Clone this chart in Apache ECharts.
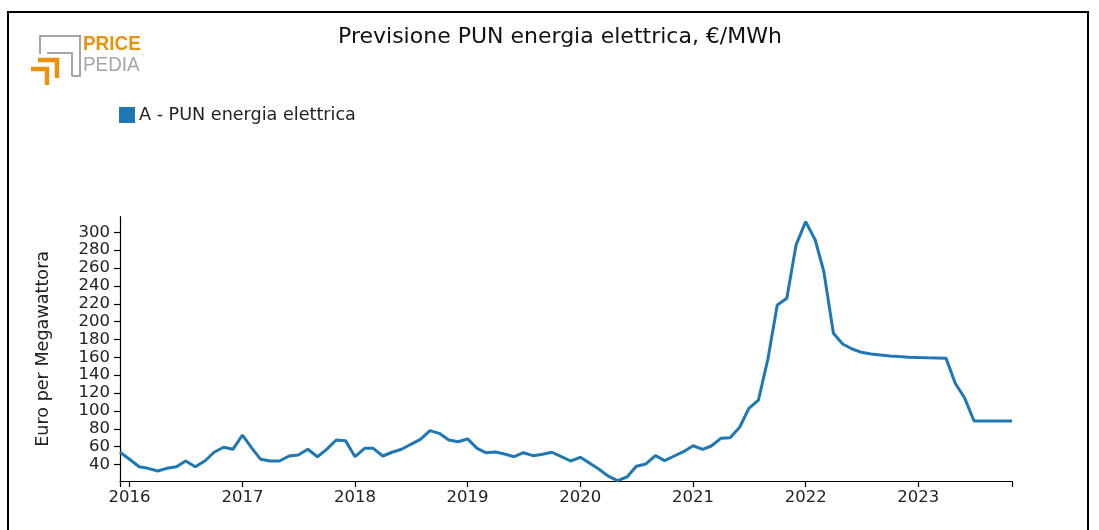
<!DOCTYPE html>
<html>
<head>
<meta charset="utf-8">
<script src="https://cdn.jsdelivr.net/npm/echarts@6/dist/echarts.min.js"></script>
<style>
html,body{margin:0;padding:0;background:#fff;}
#chart{width:1099px;height:530px;}
</style>
</head>
<body>
<div id="chart"></div>
<script>
// ---- data ----
const titleText = 'Previsione PUN energia elettrica, €/MWh';
const seriesName = 'A - PUN energia elettrica';
const yAxisName = 'Euro per Megawattora';
const months = [
 '2015-12',
 '2016-01','2016-02','2016-03','2016-04','2016-05','2016-06','2016-07','2016-08','2016-09','2016-10','2016-11','2016-12',
 '2017-01','2017-02','2017-03','2017-04','2017-05','2017-06','2017-07','2017-08','2017-09','2017-10','2017-11','2017-12',
 '2018-01','2018-02','2018-03','2018-04','2018-05','2018-06','2018-07','2018-08','2018-09','2018-10','2018-11','2018-12',
 '2019-01','2019-02','2019-03','2019-04','2019-05','2019-06','2019-07','2019-08','2019-09','2019-10','2019-11','2019-12',
 '2020-01','2020-02','2020-03','2020-04','2020-05','2020-06','2020-07','2020-08','2020-09','2020-10','2020-11','2020-12',
 '2021-01','2021-02','2021-03','2021-04','2021-05','2021-06','2021-07','2021-08','2021-09','2021-10','2021-11','2021-12',
 '2022-01','2022-02','2022-03','2022-04','2022-05','2022-06','2022-07','2022-08','2022-09','2022-10','2022-11','2022-12',
 '2023-01','2023-02','2023-03','2023-04','2023-05','2023-06','2023-07','2023-08','2023-09','2023-10','2023-11'
];
const pun = [
 53.7,
 45.8, 37.5, 35.7, 32.7, 35.7, 37.5, 43.9, 37.5, 43.9, 53.7, 59.3, 57.0,
 73.0, 58.1, 45.8, 43.9, 43.9, 49.5, 50.6, 57.0, 48.7, 57.0, 67.4, 66.7,
 48.7, 58.1, 58.1, 49.5, 53.7, 57.0, 62.6, 68.2, 77.9, 74.9, 67.4, 65.5,
 68.6, 58.1, 53.2, 54.0, 51.8, 48.7, 53.2, 49.9, 51.4, 53.7, 48.7, 43.9,
 48.0, 41.5, 35.0, 27.0, 22.0, 26.0, 38.0, 40.6, 49.9, 44.3, 49.5, 54.3,
 61.0, 57.0, 60.7, 69.3, 70.0, 81.7, 102.9, 112.2, 158.9, 218.6, 226.1, 286.0,
 312.0, 291.4, 255.9, 187.0, 174.9, 169.3, 165.6, 163.8, 162.5, 161.5, 160.8, 160.2,
 159.8, 159.5, 159.3, 159.1, 130.9, 114.1, 88.7, 88.7, 88.7, 88.8, 88.8
];
const yMin = 21.5, yMax = 317.5;

// ---- chart ----
const FONT = 'DejaVu Sans';
const TXT = '#222';
const chart = echarts.init(document.getElementById('chart'), null, {renderer: 'canvas'});
const seriesData = months.map((m, i) => [m, pun[i]]);
const orange = '#e8920f', gray = '#a6a6a6';

chart.setOption({
  animation: false,
  backgroundColor: '#fff',
  title: {
    text: titleText,
    left: 560, top: 26, textAlign: 'center', padding: 0,
    textStyle: {fontFamily: FONT, fontSize: 22, fontWeight: 'normal', color: '#111'}
  },
  legend: {
    left: 119, top: 106, padding: 0,
    itemWidth: 16, itemHeight: 16, itemGap: 10,
    icon: 'rect',
    textStyle: {fontFamily: FONT, fontSize: 17.6, color: TXT, padding: [0,0,0,-1]},
    data: [seriesName]
  },
  grid: {left: 120, right: 87, top: 216.7, bottom: 49, containLabel: false},
  xAxis: [{
    type: 'time',
    min: seriesData[0][0], max: seriesData[seriesData.length-1][0],
    splitNumber: 8,
    axisLine: {show: true, lineStyle: {color: '#000', width: 1.2}},
    axisTick: {show: true, length: 6, lineStyle: {color: '#000', width: 1.2}},
    axisLabel: {
      fontFamily: FONT, fontSize: 16.5, color: TXT, margin: 8,
      showMinLabel: false, showMaxLabel: false,
      formatter: function (v) {
        const d = new Date(v);
        return (d.getMonth() === 0 && d.getDate() === 1) ? String(d.getFullYear()) : '';
      }
    },
    splitLine: {show: false}
  }, {
    // outer end ticks of the x axis
    type: 'value', position: 'bottom', min: 0, max: 1, interval: 1,
    axisLine: {show: false},
    axisTick: {show: true, length: 6, lineStyle: {color: '#000', width: 1.2}},
    axisLabel: {show: false},
    splitLine: {show: false}
  }],
  yAxis: {
    type: 'value',
    min: yMin, max: yMax, splitNumber: 15,
    name: yAxisName, nameLocation: 'middle', nameGap: 68,
    nameTextStyle: {fontFamily: FONT, fontSize: 17.6, color: TXT},
    axisLine: {show: true, lineStyle: {color: '#000', width: 1.2}},
    axisTick: {show: true, length: 6, lineStyle: {color: '#000', width: 1.2}},
    axisLabel: {fontFamily: FONT, fontSize: 16.5, color: TXT, margin: 10,
      showMinLabel: false, showMaxLabel: false},
    splitLine: {show: false}
  },
  series: [{
    name: seriesName,
    type: 'line',
    xAxisIndex: 0,
    data: seriesData,
    showSymbol: false,
    symbol: 'none',
    color: '#1f77b4',
    lineStyle: {color: '#1f77b4', width: 3},
    z: 3
  }],
  graphic: [
    {type: 'rect', shape: {x: 8, y: 12, width: 1080, height: 700},
     style: {fill: 'none', stroke: '#000', lineWidth: 2}, silent: true},
    // logo
    {type: 'polyline', shape: {points: [[40,54],[40,36],[80,36],[80,76],[72,76]]},
     style: {fill: 'none', stroke: gray, lineWidth: 2}},
    {type: 'polyline', shape: {points: [[47,53],[72,53],[72,76]]},
     style: {fill: 'none', stroke: gray, lineWidth: 2}},
    {type: 'polyline', shape: {points: [[38,60],[57,60],[57,78]]},
     style: {fill: 'none', stroke: orange, lineWidth: 4.5}},
    {type: 'polyline', shape: {points: [[31,69],[47,69],[47,85]]},
     style: {fill: 'none', stroke: orange, lineWidth: 4.5}},
    {type: 'text', x: 83, y: 34, scaleX: 0.9,
     style: {text: 'PRICE', fill: orange, font: 'bold 21px "Liberation Sans"'}},
    {type: 'text', x: 83, y: 55, scaleX: 0.9,
     style: {text: 'PEDIA', fill: gray, font: '21px "Liberation Sans"'}}
  ]
});
</script>
</body>
</html>
